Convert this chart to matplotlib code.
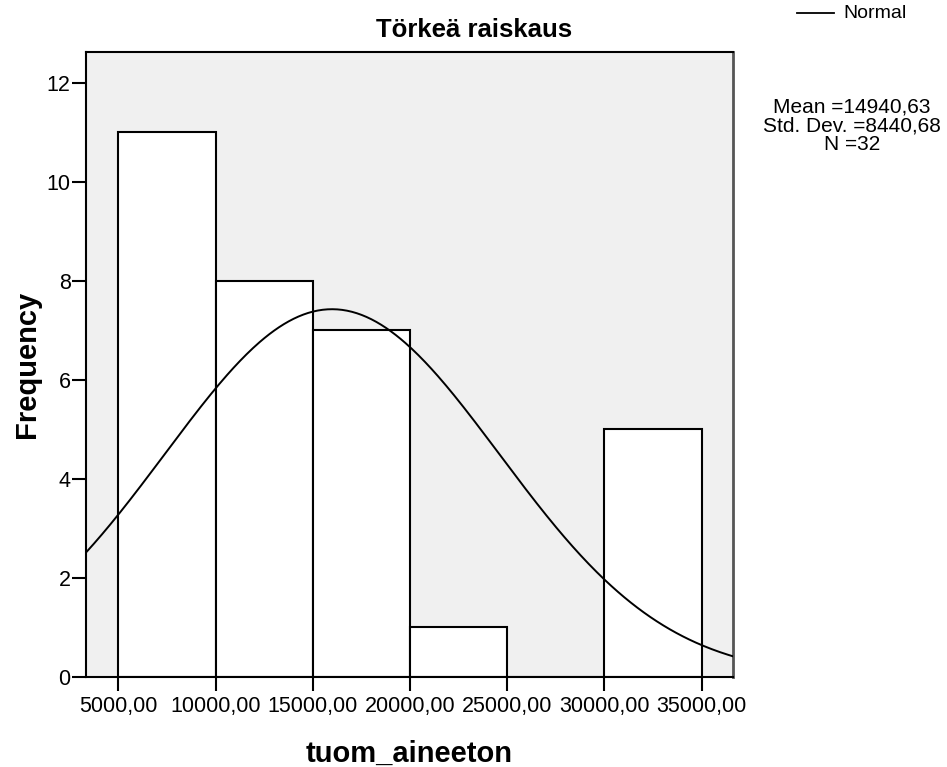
"""
Histogram of tuom_aineeton (Törkeä raiskaus) with normal curve, SPSS style
"""
import matplotlib
matplotlib.use('Agg')
import matplotlib.pyplot as plt
import numpy as np

plt.rcParams['font.family'] = ['Liberation Sans', 'DejaVu Sans']

# Data
bin_edges = [5000, 10000, 15000, 20000, 25000, 30000, 35000]
counts = [11, 8, 7, 1, 0, 5]
x_ticks = [5000, 10000, 15000, 20000, 25000, 30000, 35000]
y_ticks = [0, 2, 4, 6, 8, 10, 12]

stats_mean = "14940,63"
stats_sd = "8440,68"
stats_n = 32

# normal curve as drawn (in axis units)
curve_mean = 15990
curve_sd = 8595

x_min, x_max = 3339, 36610
y_max = 12.62

fig = plt.figure(figsize=(9.47, 7.67), dpi=100)
ax = fig.add_axes([86 / 947, 90 / 767, (733 - 86) / 947, (677 - 52) / 767])
ax.set_facecolor('#f0f0f0')

widths = np.diff(bin_edges)
ax.bar(bin_edges[:-1], counts, width=widths, align='edge',
       color='white', edgecolor='black', linewidth=1.5, zorder=2)

# Normal curve scaled to the histogram
bin_w = widths[0]
xs = np.linspace(x_min, x_max, 400)
ys = stats_n * bin_w / (curve_sd * np.sqrt(2 * np.pi)) * np.exp(-0.5 * ((xs - curve_mean) / curve_sd) ** 2)
ax.plot(xs, ys, color='black', linewidth=1.4, zorder=3)

ax.set_xlim(x_min, x_max)
ax.set_ylim(0, y_max)
ax.set_xticks(x_ticks)
ax.set_xticklabels([f"{v},00" for v in x_ticks])
ax.set_yticks(y_ticks)
ax.tick_params(axis='both', direction='out', length=10, width=1.5, labelsize=15.5)
ax.tick_params(axis='x', pad=4)
ax.tick_params(axis='y', pad=1)

for side in ['left', 'bottom', 'top']:
    ax.spines[side].set_linewidth(1.5)
    ax.spines[side].set_color('black')
ax.spines['right'].set_linewidth(2)
ax.spines['right'].set_color('#555555')

ax.set_xlabel('tuom_aineeton', fontsize=21, fontweight='bold', labelpad=16)
ax.set_ylabel('Frequency', fontsize=21, fontweight='bold', labelpad=4)

fig.text(474 / 947, 1 - 30 / 767, 'Törkeä raiskaus', fontsize=18.5, fontweight='bold',
         ha='center', va='center')

# legend entry
fig.add_artist(plt.Line2D([797 / 947, 834 / 947], [1 - 13 / 767, 1 - 13 / 767],
                          color='black', linewidth=1.3))
fig.text(843 / 947, 1 - 14 / 767, 'Normal', fontsize=14, ha='left', va='center')

fig.text(852 / 947, 1 - 126 / 767,
         f"Mean ={stats_mean}\nStd. Dev. ={stats_sd}\nN ={stats_n}",
         fontsize=15, ha='center', va='center', multialignment='center', linespacing=0.98)

fig.savefig('out.png', dpi=100, facecolor='white')
